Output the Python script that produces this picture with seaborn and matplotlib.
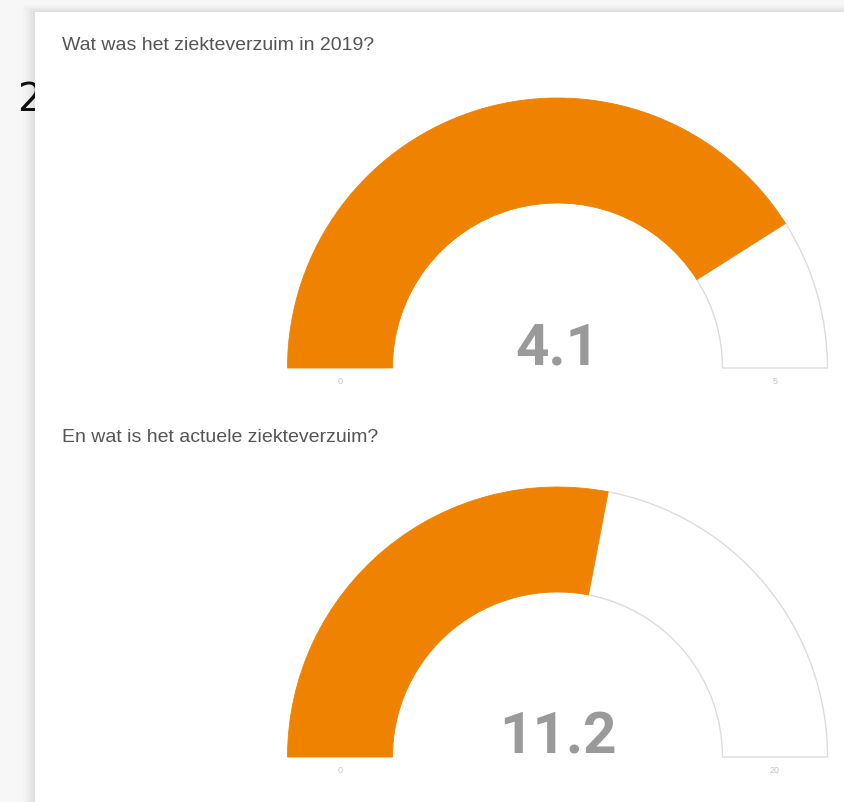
import matplotlib
matplotlib.use("Agg")
import matplotlib.pyplot as plt
from matplotlib.patches import Wedge, Rectangle
import seaborn as sns

sns.set_theme(style="white")
plt.rcParams["font.family"] = ["Liberation Sans", "DejaVu Sans"]

# Gauge data
questions = ["Wat was het ziekteverzuim in 2019?", "En wat is het actuele ziekteverzuim?"]
values = [4.1, 11.2]
min_values = [0, 0]
max_values = [5, 20]

ORANGE = "#ef8200"
W, H = 844, 802

fig = plt.figure(figsize=(W / 100, H / 100), dpi=100, facecolor="#f7f7f7")

# Page background in pixel coordinates
bg = fig.add_axes([0, 0, 1, 1])
bg.set_xlim(0, W)
bg.set_ylim(H, 0)
bg.axis("off")
bg.set_facecolor("#f7f7f7")

# Page heading (scrolled almost out of view) and section number
bg.text(480, -7, "Ziekteverzuim: de cijfers op een rij", fontsize=24,
        color="#333333", ha="center", va="baseline", family="Roboto", zorder=1)
bg.text(17, 100, "2", fontsize=28, color="#111111", ha="left", va="center",
        family="DejaVu Sans", zorder=1)

# Card with a soft shadow
for i, a in enumerate([0.012, 0.015, 0.018, 0.022, 0.028]):
    off = 12 - i * 2.4
    bg.add_patch(Rectangle((35 - off, 12 - off * 0.6), W, H, facecolor="#000000",
                           alpha=a, edgecolor="none", zorder=2))
bg.add_patch(Rectangle((35, 12), W, H, facecolor="white", edgecolor="none", zorder=3))

title_y = [45, 437]
for q, ty in zip(questions, title_y):
    bg.text(62, ty, q, fontsize=14, color="#555555", ha="left", va="center", zorder=4)

# Gauges
cx, r_out, r_in = 557.5, 270.0, 165.0
baselines = [368, 757]
band = (r_out - r_in) / r_out

for val, vmin, vmax, base in zip(values, min_values, max_values, baselines):
    left = (cx - r_out) / W
    bottom = (H - base) / H
    ax = fig.add_axes([left, bottom, 2 * r_out / W, r_out / H])
    ax.set_xlim(-1, 1)
    ax.set_ylim(0, 1)
    ax.axis("off")

    frac = (val - vmin) / (vmax - vmin)
    split = 180 - 180 * frac

    # full track outline, then the filled part
    ax.add_patch(Wedge((0, 0), 1, 0, split, width=band, facecolor="white",
                       edgecolor="#dcdcdc", linewidth=1.0, clip_on=False, zorder=1))
    ax.add_patch(Wedge((0, 0), 1, split, 180, width=band, facecolor=ORANGE,
                       edgecolor=ORANGE, linewidth=0.6, clip_on=False, zorder=2))

    ax.text(0, 0.012, f"{val:g}", fontsize=42, fontweight="bold", color="#9a9a9a",
            ha="center", va="baseline", family="Roboto", zorder=3)

    mid = 1 - band / 2
    ax.text(-mid, -0.035, f"{vmin:g}", fontsize=6.5, color="#c4c4c4",
            ha="center", va="top", clip_on=False)
    ax.text(mid, -0.035, f"{vmax:g}", fontsize=6.5, color="#c4c4c4",
            ha="center", va="top", clip_on=False)

fig.savefig("out.png", dpi=100, facecolor=fig.get_facecolor())
